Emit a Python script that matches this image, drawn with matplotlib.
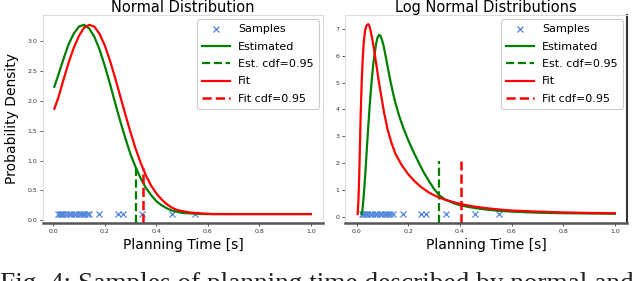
import matplotlib
matplotlib.use("Agg")
import matplotlib.pyplot as plt

# ---------------- data ----------------
samples = [0.02, 0.025, 0.03, 0.035, 0.04, 0.05, 0.06, 0.07, 0.08, 0.09, 0.10,
           0.11, 0.115, 0.12, 0.13, 0.14, 0.18, 0.25, 0.27, 0.345, 0.46, 0.55]
sample_level = 0.1

norm_x = [0.005, 0.02, 0.04, 0.06, 0.08, 0.10, 0.12, 0.14, 0.16, 0.18, 0.20, 0.22,
          0.24, 0.26, 0.28, 0.30, 0.32, 0.34, 0.36, 0.38, 0.40, 0.42, 0.44, 0.46,
          0.48, 0.50, 0.54, 0.58, 0.62, 0.70, 0.80, 0.90, 1.00]
norm_est = [2.24, 2.43, 2.70, 2.95, 3.13, 3.25, 3.28, 3.22, 3.08, 2.87, 2.60, 2.30,
            1.98, 1.67, 1.38, 1.11, 0.89, 0.70, 0.54, 0.42, 0.32, 0.25, 0.20, 0.16,
            0.14, 0.12, 0.11, 0.10, 0.10, 0.10, 0.10, 0.10, 0.10]
norm_fit = [1.87, 2.05, 2.35, 2.64, 2.89, 3.09, 3.23, 3.28, 3.25, 3.13, 2.94, 2.69,
            2.40, 2.09, 1.78, 1.48, 1.20, 0.96, 0.75, 0.58, 0.45, 0.35, 0.27, 0.21,
            0.17, 0.15, 0.12, 0.11, 0.10, 0.10, 0.10, 0.10, 0.10]
norm_est_cdf = (0.32, 0.87)
norm_fit_cdf = (0.35, 0.87)

log_fit_x = [0.004, 0.007, 0.010, 0.013, 0.016, 0.020, 0.024, 0.028, 0.033, 0.038,
             0.045, 0.050, 0.056, 0.062, 0.068, 0.075, 0.086, 0.097, 0.107, 0.120,
             0.135, 0.150, 0.174, 0.200, 0.226, 0.250, 0.280, 0.300, 0.323, 0.350,
             0.380, 0.400, 0.446, 0.500, 0.550, 0.600, 0.700, 0.800, 0.900, 1.000]
log_fit = [0.10, 0.60, 1.50, 2.70, 3.90, 5.10, 5.95, 6.55, 6.95, 7.12,
           7.18, 7.10, 6.85, 6.55, 6.20, 5.75, 5.04, 4.40, 3.85, 3.25,
           2.75, 2.35, 1.93, 1.58, 1.31, 1.10, 0.90, 0.80, 0.70, 0.61,
           0.53, 0.48, 0.39, 0.32, 0.27, 0.23, 0.19, 0.16, 0.14, 0.13]
log_est_x = [0.019, 0.022, 0.026, 0.030, 0.035, 0.040, 0.045, 0.050, 0.055, 0.060,
             0.065, 0.070, 0.075, 0.080, 0.086, 0.092, 0.098, 0.105, 0.112, 0.120,
             0.130, 0.140, 0.150, 0.165, 0.180, 0.200, 0.220, 0.245, 0.260, 0.280,
             0.300, 0.320, 0.340, 0.360, 0.380, 0.400, 0.430, 0.460, 0.500, 0.550,
             0.600, 0.700, 0.800, 0.900, 1.000]
log_est = [0.10, 0.20, 0.60, 1.10, 1.80, 2.60, 3.35, 4.05, 4.70, 5.25,
           5.72, 6.10, 6.42, 6.65, 6.78, 6.75, 6.60, 6.35, 6.00, 5.60,
           5.10, 4.65, 4.25, 3.75, 3.33, 2.85, 2.42, 1.93, 1.65, 1.33,
           1.03, 0.80, 0.66, 0.57, 0.49, 0.43, 0.37, 0.32, 0.27, 0.22,
           0.19, 0.15, 0.13, 0.12, 0.11]
log_est_cdf = (0.32, 2.08)
log_fit_cdf = (0.404, 2.08)

xticks = [0.0, 0.2, 0.4, 0.6, 0.8, 1.0]
yticks_norm = [0.0, 0.5, 1.0, 1.5, 2.0, 2.5, 3.0]
yticks_log = [0, 1, 2, 3, 4, 5, 6, 7]

caption = "Fig. 4: Samples of planning time described by normal and"

# ---------------- figure ----------------
W, H = 640, 281
fig = plt.figure(figsize=(W / 100, H / 100), dpi=100)
fig.patch.set_facecolor("white")

ax1 = fig.add_axes([43 / W, 1 - 223 / H, 280 / W, 208 / H])
ax2 = fig.add_axes([345 / W, 1 - 223 / H, 282 / W, 208 / H])

sample_color = "#4f86dd"


def draw(ax, xe, ye, xf, yf, est_cdf, fit_cdf, ylim, xlim, yticks, ylabels, title):
    ax.set_xlim(*xlim)
    ax.set_ylim(*ylim)
    ax.plot(samples, [sample_level] * len(samples), linestyle="none", marker="x",
            color=sample_color, markersize=4, markeredgewidth=0.9, label="Samples")
    ax.plot(xe, ye, color="green", lw=1.6, label="Estimated")
    ax.vlines(est_cdf[0], ylim[0], est_cdf[1], colors="green", linestyles="--",
              lw=1.6, label="Est. cdf=0.95")
    ax.plot(xf, yf, color="red", lw=1.6, label="Fit")
    ax.vlines(fit_cdf[0], ylim[0], fit_cdf[1], colors="red", linestyles="--",
              lw=1.8, label="Fit cdf=0.95")
    ax.set_xticks(xticks)
    ax.set_xticklabels([f"{v:.1f}" for v in xticks])
    ax.set_yticks(yticks)
    ax.set_yticklabels(ylabels)
    ax.tick_params(axis="both", labelsize=4.5, length=2, width=0.6, pad=2,
                   colors="#333333")
    for side in ("left", "top", "right"):
        ax.spines[side].set_color("#dddddd")
        ax.spines[side].set_linewidth(0.8)
    ax.spines["bottom"].set_color("#555555")
    ax.spines["bottom"].set_linewidth(1.8)
    ax.set_xlabel("Planning Time [s]", fontsize=10, labelpad=3)
    ax.set_title(title, fontsize=10.5, pad=2.5)
    leg = ax.legend(loc="upper right", fontsize=8, labelspacing=0.66,
                    handlelength=2.5, borderaxespad=0.4, framealpha=1,
                    edgecolor="#cccccc", borderpad=0.45, handletextpad=0.75)
    leg.get_frame().set_linewidth(0.8)


draw(ax1, norm_x, norm_est, norm_x, norm_fit, norm_est_cdf, norm_fit_cdf,
     (-0.05, 3.445), (-0.039, 1.047), yticks_norm,
     [f"{v:.1f}" for v in yticks_norm], "Normal Distribution")
draw(ax2, log_est_x, log_est, log_fit_x, log_fit, log_est_cdf, log_fit_cdf,
     (-0.235, 7.52), (-0.045, 1.047), yticks_log,
     [str(v) for v in yticks_log], "Log Normal Distributions")
ax2.spines["right"].set_color("#333333")
ax2.spines["right"].set_linewidth(1.5)

ax1.set_ylabel("Probability Density", fontsize=10, labelpad=6)

fig.text(0.0, 1 - 272 / H, caption, fontsize=19.6, family="Liberation Serif",
         va="top", ha="left", color="#222222")

fig.savefig("out.png", dpi=100)
